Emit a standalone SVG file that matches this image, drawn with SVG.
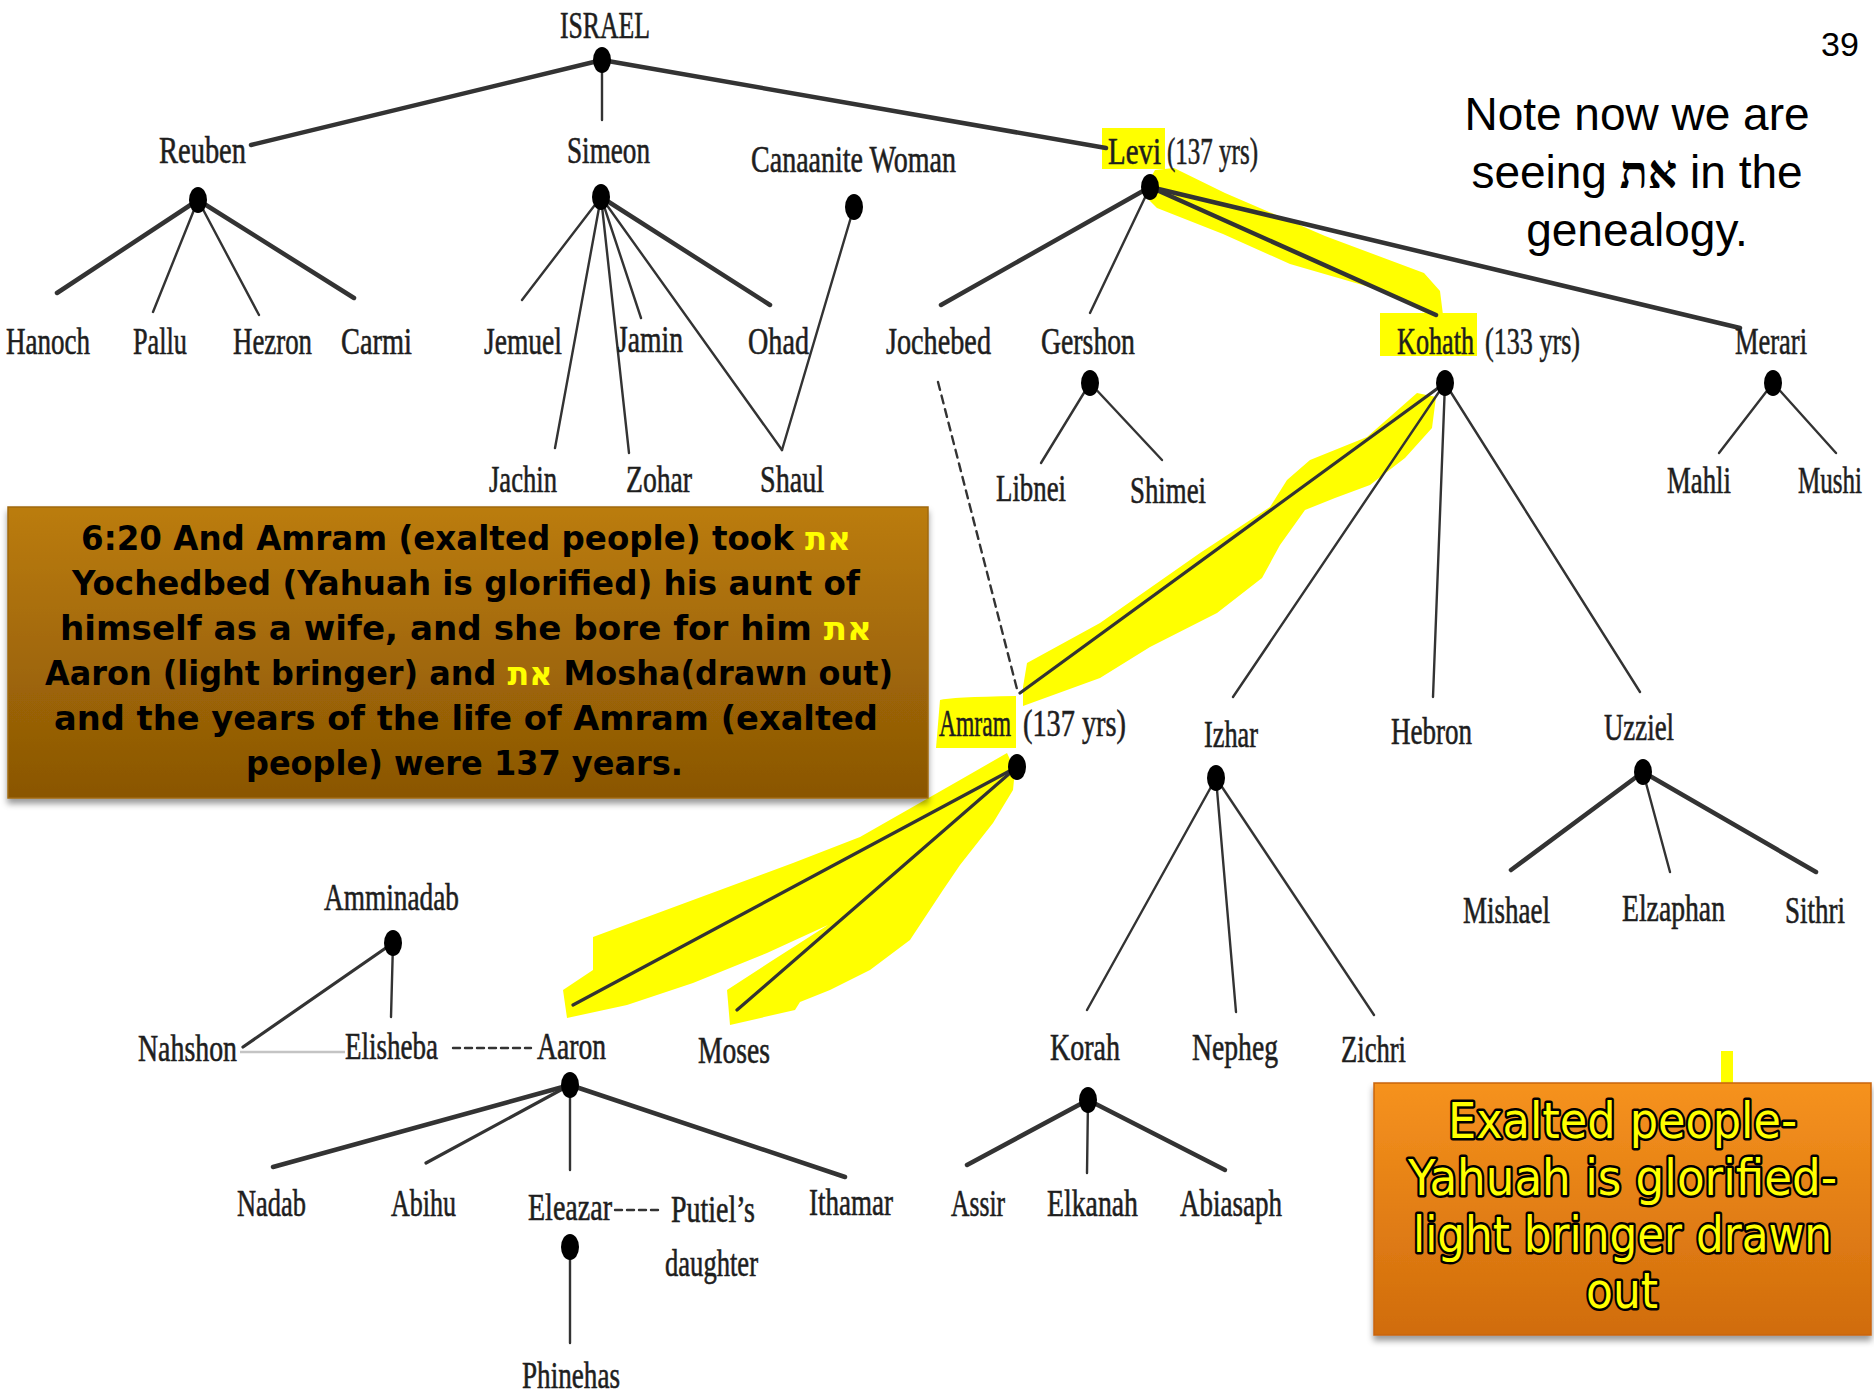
<svg xmlns="http://www.w3.org/2000/svg" width="1874" height="1397" viewBox="0 0 1874 1397">
<defs>
<style>
.lbl{font-family:"Liberation Serif","Times New Roman",serif;font-size:38px;fill:#1e1e1e;stroke:#1e1e1e;stroke-width:0.6;}
.dot{fill:#000;}
.ln{stroke:#333;stroke-linecap:round;fill:none;}
.w4{stroke-width:4.5;}
.w3{stroke-width:3.2;}
.w2{stroke-width:2.4;}
.dash{stroke-dasharray:8 6;}
.hl{fill:#ffff00;}
.box1{font-family:"DejaVu Sans","Liberation Sans",sans-serif;font-weight:bold;font-size:33px;fill:#000;}
.heb{fill:#ffff00;font-family:"DejaVu Sans","Liberation Sans",sans-serif;font-weight:bold;}
.box2{font-family:"DejaVu Sans","Liberation Sans",sans-serif;font-size:49px;fill:#ffff00;stroke:#000;stroke-width:5;paint-order:stroke;stroke-linejoin:round;}
.note{font-family:"Liberation Sans",Arial,sans-serif;font-size:46px;fill:#000;text-anchor:middle;}
</style>
<linearGradient id="gBrown" x1="0" y1="0" x2="0" y2="1">
<stop offset="0" stop-color="#bb7c0c"/>
<stop offset="1" stop-color="#8a5604"/>
</linearGradient>
<linearGradient id="gOrange" x1="0" y1="0" x2="0" y2="1">
<stop offset="0" stop-color="#f6921e"/>
<stop offset="1" stop-color="#d06c0c"/>
</linearGradient>
<filter id="shadow" x="-5%" y="-5%" width="110%" height="120%">
<feDropShadow dx="0" dy="5" stdDeviation="3" flood-color="#000" flood-opacity="0.4"/>
</filter>
</defs>
<rect x="0" y="0" width="1874" height="1397" fill="#ffffff"/>

<g id="highlights">
<rect class="hl" x="1102" y="128" width="63" height="41"/>
<rect class="hl" x="1380" y="313" width="97" height="43"/>
<path class="hl" d="M940,700 Q950,697 1016,696 L1016,748 L936,748 Z"/>
<polygon class="hl" points="1155,170 1174,168 1225,193 1325,236 1424,273 1440,291 1443,315 1436,319 1390,293 1290,264 1223,234 1157,208 1142,193"/>
<polygon class="hl" points="1417,393 1367,437 1310,460 1287,480 1270,507 1200,553 1100,623 1027,663 1023,687 1023,706 1100,678 1150,647 1217,613 1262,578 1280,545 1305,510 1335,498 1370,485 1405,458 1432,428 1436,397"/>
<polygon class="hl" points="1007,753 1015,770 1013,790 993,823 960,865 943,890 910,940 870,970 830,990 800,1002 795,1010 730,1025 727,990 770,962 828,925 767,953 693,983 627,1005 567,1018 563,990 593,970 593,937 693,900 793,863 860,837 960,780"/>
<rect class="hl" x="1721" y="1051" width="12" height="33"/>
</g>

<g id="connectors">
<line class="ln w4" x1="602" y1="60" x2="251" y2="145"/>
<line class="ln w2" x1="602" y1="60" x2="602" y2="120"/>
<line class="ln w4" x1="602" y1="60" x2="1106" y2="148"/>
<line class="ln w4" x1="198" y1="200" x2="57" y2="293"/>
<line class="ln w2" x1="198" y1="200" x2="153" y2="312"/>
<line class="ln w2" x1="198" y1="200" x2="259" y2="315"/>
<line class="ln w4" x1="198" y1="200" x2="354" y2="298"/>
<line class="ln w2" x1="601" y1="197" x2="522" y2="300"/>
<line class="ln w2" x1="601" y1="197" x2="555" y2="448"/>
<line class="ln w2" x1="601" y1="197" x2="629" y2="453"/>
<line class="ln w2" x1="601" y1="197" x2="641" y2="318"/>
<line class="ln w2" x1="601" y1="197" x2="782" y2="450"/>
<line class="ln w4" x1="601" y1="197" x2="770" y2="305"/>
<line class="ln w2" x1="854" y1="207" x2="782" y2="450"/>
<line class="ln w4" x1="1150" y1="187" x2="941" y2="305"/>
<line class="ln w2" x1="1150" y1="187" x2="1090" y2="313"/>
<line class="ln w4" x1="1150" y1="187" x2="1436" y2="315"/>
<line class="ln w4" x1="1150" y1="187" x2="1740" y2="328"/>
<line class="ln w2 dash" x1="938" y1="382" x2="1018" y2="693"/>
<line class="ln w2" x1="1090" y1="383" x2="1041" y2="463"/>
<line class="ln w2" x1="1090" y1="383" x2="1162" y2="460"/>
<line class="ln w3" x1="1445" y1="383" x2="1020" y2="693"/>
<line class="ln w2" x1="1445" y1="383" x2="1233" y2="697"/>
<line class="ln w2" x1="1445" y1="383" x2="1433" y2="697"/>
<line class="ln w2" x1="1445" y1="383" x2="1640" y2="692"/>
<line class="ln w2" x1="1773" y1="383" x2="1719" y2="453"/>
<line class="ln w2" x1="1773" y1="383" x2="1836" y2="453"/>
<line class="ln w3" x1="1017" y1="767" x2="573" y2="1005"/>
<line class="ln w3" x1="1017" y1="767" x2="737" y2="1010"/>
<line class="ln w2" x1="1216" y1="778" x2="1087" y2="1010"/>
<line class="ln w2" x1="1216" y1="778" x2="1236" y2="1012"/>
<line class="ln w2" x1="1216" y1="778" x2="1374" y2="1015"/>
<line class="ln w4" x1="1643" y1="772" x2="1511" y2="870"/>
<line class="ln w2" x1="1643" y1="772" x2="1670" y2="872"/>
<line class="ln w4" x1="1643" y1="772" x2="1816" y2="872"/>
<line class="ln w3" x1="393" y1="943" x2="243" y2="1047"/>
<line class="ln w2" x1="393" y1="943" x2="391" y2="1017"/>
<line x1="240" y1="1052" x2="345" y2="1052" stroke="#c4c4c4" stroke-width="2.5"/>
<line class="ln w2" x1="453" y1="1048" x2="531" y2="1048" stroke-dasharray="7 5"/>
<line class="ln w4" x1="570" y1="1085" x2="273" y2="1167"/>
<line class="ln w3" x1="570" y1="1085" x2="426" y2="1163"/>
<line class="ln w2" x1="570" y1="1085" x2="570" y2="1170"/>
<line class="ln w4" x1="570" y1="1085" x2="845" y2="1177"/>
<line class="ln w2" x1="615" y1="1210" x2="660" y2="1210" stroke-dasharray="7 5"/>
<line class="ln w2" x1="570" y1="1247" x2="570" y2="1343"/>
<line class="ln w4" x1="1088" y1="1100" x2="967" y2="1165"/>
<line class="ln w2" x1="1088" y1="1100" x2="1087" y2="1173"/>
<line class="ln w4" x1="1088" y1="1100" x2="1225" y2="1170"/>
</g>

<g id="n-israel"><text class="lbl" x="560" y="38" textLength="90" lengthAdjust="spacingAndGlyphs">ISRAEL</text><ellipse class="dot" cx="602" cy="60" rx="9" ry="13"/></g>
<g id="n-reuben"><text class="lbl" x="159" y="163" textLength="87" lengthAdjust="spacingAndGlyphs">Reuben</text><ellipse class="dot" cx="198" cy="200" rx="9" ry="13"/></g>
<g id="n-simeon"><text class="lbl" x="567" y="163" textLength="83" lengthAdjust="spacingAndGlyphs">Simeon</text><ellipse class="dot" cx="601" cy="197" rx="9" ry="13"/></g>
<g id="n-canaanite"><text class="lbl" x="751" y="172" textLength="205" lengthAdjust="spacingAndGlyphs">Canaanite Woman</text><ellipse class="dot" cx="854" cy="207" rx="9" ry="13"/></g>
<g id="n-levi"><text class="lbl" x="1108" y="164" textLength="53" lengthAdjust="spacingAndGlyphs">Levi</text><text class="lbl" x="1167" y="164" textLength="91" lengthAdjust="spacingAndGlyphs">(137 yrs)</text><ellipse class="dot" cx="1150" cy="187" rx="9" ry="13"/></g>
<g id="n-hanoch"><text class="lbl" x="6" y="354" textLength="84" lengthAdjust="spacingAndGlyphs">Hanoch</text></g>
<g id="n-pallu"><text class="lbl" x="133" y="354" textLength="54" lengthAdjust="spacingAndGlyphs">Pallu</text></g>
<g id="n-hezron"><text class="lbl" x="233" y="354" textLength="79" lengthAdjust="spacingAndGlyphs">Hezron</text></g>
<g id="n-carmi"><text class="lbl" x="341" y="354" textLength="71" lengthAdjust="spacingAndGlyphs">Carmi</text></g>
<g id="n-jemuel"><text class="lbl" x="484" y="354" textLength="78" lengthAdjust="spacingAndGlyphs">Jemuel</text></g>
<g id="n-jamin"><text class="lbl" x="617" y="352" textLength="66" lengthAdjust="spacingAndGlyphs">Jamin</text></g>
<g id="n-ohad"><text class="lbl" x="748" y="354" textLength="61" lengthAdjust="spacingAndGlyphs">Ohad</text></g>
<g id="n-jochebed"><text class="lbl" x="886" y="354" textLength="105" lengthAdjust="spacingAndGlyphs">Jochebed</text></g>
<g id="n-gershon"><text class="lbl" x="1041" y="354" textLength="94" lengthAdjust="spacingAndGlyphs">Gershon</text><ellipse class="dot" cx="1090" cy="383" rx="9" ry="13"/></g>
<g id="n-kohath"><text class="lbl" x="1397" y="354" textLength="77" lengthAdjust="spacingAndGlyphs">Kohath</text><text class="lbl" x="1485" y="354" textLength="95" lengthAdjust="spacingAndGlyphs">(133 yrs)</text><ellipse class="dot" cx="1445" cy="383" rx="9" ry="13"/></g>
<g id="n-merari"><text class="lbl" x="1735" y="354" textLength="72" lengthAdjust="spacingAndGlyphs">Merari</text><ellipse class="dot" cx="1773" cy="383" rx="9" ry="13"/></g>
<g id="n-jachin"><text class="lbl" x="489" y="492" textLength="68" lengthAdjust="spacingAndGlyphs">Jachin</text></g>
<g id="n-zohar"><text class="lbl" x="626" y="492" textLength="66" lengthAdjust="spacingAndGlyphs">Zohar</text></g>
<g id="n-shaul"><text class="lbl" x="760" y="492" textLength="64" lengthAdjust="spacingAndGlyphs">Shaul</text></g>
<g id="n-libnei"><text class="lbl" x="996" y="501" textLength="70" lengthAdjust="spacingAndGlyphs">Libnei</text></g>
<g id="n-shimei"><text class="lbl" x="1130" y="503" textLength="76" lengthAdjust="spacingAndGlyphs">Shimei</text></g>
<g id="n-mahli"><text class="lbl" x="1667" y="493" textLength="64" lengthAdjust="spacingAndGlyphs">Mahli</text></g>
<g id="n-mushi"><text class="lbl" x="1798" y="493" textLength="64" lengthAdjust="spacingAndGlyphs">Mushi</text></g>
<g id="n-amram"><text class="lbl" x="939" y="736" textLength="72" lengthAdjust="spacingAndGlyphs">Amram</text><text class="lbl" x="1023" y="736" textLength="103" lengthAdjust="spacingAndGlyphs">(137 yrs)</text><ellipse class="dot" cx="1017" cy="767" rx="9" ry="13"/></g>
<g id="n-izhar"><text class="lbl" x="1204" y="747" textLength="54" lengthAdjust="spacingAndGlyphs">Izhar</text><ellipse class="dot" cx="1216" cy="778" rx="9" ry="13"/></g>
<g id="n-hebron"><text class="lbl" x="1391" y="744" textLength="81" lengthAdjust="spacingAndGlyphs">Hebron</text></g>
<g id="n-uzziel"><text class="lbl" x="1604" y="740" textLength="70" lengthAdjust="spacingAndGlyphs">Uzziel</text><ellipse class="dot" cx="1643" cy="772" rx="9" ry="13"/></g>
<g id="n-mishael"><text class="lbl" x="1463" y="923" textLength="87" lengthAdjust="spacingAndGlyphs">Mishael</text></g>
<g id="n-elzaphan"><text class="lbl" x="1622" y="921" textLength="103" lengthAdjust="spacingAndGlyphs">Elzaphan</text></g>
<g id="n-sithri"><text class="lbl" x="1785" y="923" textLength="60" lengthAdjust="spacingAndGlyphs">Sithri</text></g>
<g id="n-amminadab"><text class="lbl" x="324" y="910" textLength="135" lengthAdjust="spacingAndGlyphs">Amminadab</text><ellipse class="dot" cx="393" cy="943" rx="9" ry="13"/></g>
<g id="n-nahshon"><text class="lbl" x="138" y="1061" textLength="99" lengthAdjust="spacingAndGlyphs">Nahshon</text></g>
<g id="n-elisheba"><text class="lbl" x="345" y="1059" textLength="93" lengthAdjust="spacingAndGlyphs">Elisheba</text></g>
<g id="n-aaron"><text class="lbl" x="537" y="1059" textLength="69" lengthAdjust="spacingAndGlyphs">Aaron</text><ellipse class="dot" cx="570" cy="1085" rx="9" ry="13"/></g>
<g id="n-moses"><text class="lbl" x="698" y="1063" textLength="72" lengthAdjust="spacingAndGlyphs">Moses</text></g>
<g id="n-korah"><text class="lbl" x="1050" y="1060" textLength="70" lengthAdjust="spacingAndGlyphs">Korah</text><ellipse class="dot" cx="1088" cy="1100" rx="9" ry="13"/></g>
<g id="n-nepheg"><text class="lbl" x="1192" y="1060" textLength="86" lengthAdjust="spacingAndGlyphs">Nepheg</text></g>
<g id="n-zichri"><text class="lbl" x="1341" y="1062" textLength="65" lengthAdjust="spacingAndGlyphs">Zichri</text></g>
<g id="n-nadab"><text class="lbl" x="237" y="1216" textLength="69" lengthAdjust="spacingAndGlyphs">Nadab</text></g>
<g id="n-abihu"><text class="lbl" x="391" y="1216" textLength="65" lengthAdjust="spacingAndGlyphs">Abihu</text></g>
<g id="n-eleazar"><text class="lbl" x="528" y="1220" textLength="84" lengthAdjust="spacingAndGlyphs">Eleazar</text><ellipse class="dot" cx="570" cy="1247" rx="9" ry="13"/></g>
<g id="n-putiel"><text class="lbl" x="671" y="1222" textLength="84" lengthAdjust="spacingAndGlyphs">Putiel’s</text><text class="lbl" x="665" y="1276" textLength="93" lengthAdjust="spacingAndGlyphs">daughter</text></g>
<g id="n-ithamar"><text class="lbl" x="809" y="1215" textLength="84" lengthAdjust="spacingAndGlyphs">Ithamar</text></g>
<g id="n-assir"><text class="lbl" x="951" y="1216" textLength="54" lengthAdjust="spacingAndGlyphs">Assir</text></g>
<g id="n-elkanah"><text class="lbl" x="1047" y="1216" textLength="91" lengthAdjust="spacingAndGlyphs">Elkanah</text></g>
<g id="n-abiasaph"><text class="lbl" x="1180" y="1216" textLength="102" lengthAdjust="spacingAndGlyphs">Abiasaph</text></g>
<g id="n-phinehas"><text class="lbl" x="522" y="1388" textLength="98" lengthAdjust="spacingAndGlyphs">Phinehas</text></g>

<g id="page-number"><text x="1821" y="56" font-family="Liberation Sans, Arial, sans-serif" font-size="34" fill="#000">39</text></g>

<g id="note">
<text class="note" x="1637" y="130">Note now we are</text>
<text class="note" x="1637" y="188">seeing <tspan font-weight="bold" font-family="Liberation Serif, DejaVu Serif, serif">את</tspan> in the</text>
<text class="note" x="1637" y="246">genealogy.</text>
</g>

<g id="verse-box">
<rect x="8" y="507" width="920" height="291" fill="url(#gBrown)" stroke="#a06a10" stroke-width="1.5" filter="url(#shadow)"/>
<text class="box1" x="81" y="550" textLength="770" lengthAdjust="spacingAndGlyphs">6:20 And Amram (exalted people) took <tspan class="heb">את</tspan></text>
<text class="box1" x="72" y="595" textLength="788" lengthAdjust="spacingAndGlyphs">Yochedbed (Yahuah is glorified) his aunt of</text>
<text class="box1" x="60" y="640" textLength="812" lengthAdjust="spacingAndGlyphs">himself as a wife, and she bore for him  <tspan class="heb">את</tspan></text>
<text class="box1" x="45" y="685" textLength="848" lengthAdjust="spacingAndGlyphs">Aaron (light bringer) and <tspan class="heb">את</tspan> Mosha(drawn out)</text>
<text class="box1" x="54" y="730" textLength="824" lengthAdjust="spacingAndGlyphs">and the years of the life of Amram (exalted</text>
<text class="box1" x="246" y="775" textLength="437" lengthAdjust="spacingAndGlyphs">people) were 137 years.</text>
</g>

<g id="meaning-box">
<rect x="1374" y="1083" width="497" height="252" fill="url(#gOrange)" stroke="#c8640a" stroke-width="1.5" filter="url(#shadow)"/>
<text class="box2" x="1448" y="1138" textLength="349" lengthAdjust="spacingAndGlyphs">Exalted people-</text>
<text class="box2" x="1408" y="1195" textLength="429" lengthAdjust="spacingAndGlyphs">Yahuah is glorified-</text>
<text class="box2" x="1413" y="1252" textLength="419" lengthAdjust="spacingAndGlyphs">light bringer drawn</text>
<text class="box2" x="1586" y="1308" textLength="72" lengthAdjust="spacingAndGlyphs">out</text>
</g>
</svg>
